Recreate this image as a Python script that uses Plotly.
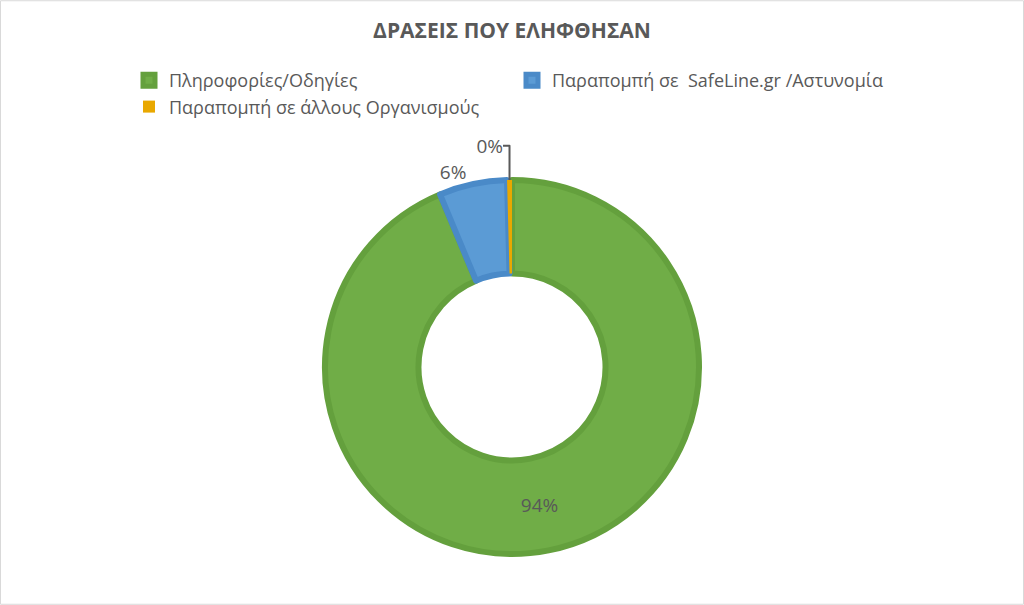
import plotly.graph_objects as go

# actions taken (counts)
labels = ["Πληροφορίες/Οδηγίες", "Παραπομπή σε  SafeLine.gr /Αστυνομία", "Παραπομπή σε άλλους Οργανισμούς"]
values = [1550, 97, 7]
colors = ["#70AD47", "#5B9BD5", "#E9A800"]
edge_colors = ["#64A03D", "#4A8AC8", "#E9A800"]

W, H = 1024, 605
top, bottom = 180, 51
plot_h = H - top - bottom

fig = go.Figure()
fig.add_trace(go.Pie(
    labels=labels,
    values=values,
    hole=0.5,
    sort=False,
    direction="clockwise",
    rotation=0,
    marker=dict(colors=colors, line=dict(color=edge_colors, width=[6, 6, 0])),
    texttemplate="%{percent:.0%}",
    textposition=["inside", "outside", "outside"],
    insidetextorientation="horizontal",
    textfont=dict(size=19, color="#595959", family="Open Sans"),
    domain=dict(x=[0, 1], y=[0, 1]),
))

fig.update_layout(
    width=W, height=H,
    margin=dict(l=0, r=0, t=top, b=bottom, autoexpand=False),
    paper_bgcolor="white",
    plot_bgcolor="white",
    font=dict(family="Open Sans", color="#595959"),
    title=dict(
        text="<b>ΔΡΑΣΕΙΣ ΠΟΥ ΕΛΗΦΘΗΣΑΝ</b>",
        x=0.5, xanchor="center",
        y=1 - 31 / H, yanchor="middle",
        font=dict(size=21, color="#595959", family="Open Sans"),
    ),
    legend=dict(
        orientation="h",
        x=129 / W, xanchor="left",
        y=(H - bottom - 62) / plot_h, yanchor="top",
        entrywidth=338, entrywidthmode="pixels",
        font=dict(size=18, color="#595959", family="Open Sans"),
        traceorder="normal",
    ),
    shapes=[dict(
        type="rect", xref="paper", yref="paper",
        x0=0.0005, x1=0.9995,
        y0=-bottom / plot_h + 0.002, y1=1 + top / plot_h - 0.002,
        line=dict(color="#D9D9D9", width=1),
        fillcolor="rgba(0,0,0,0)",
    )],
)

# drop the default page margin so the figure sits at the window's corner
fig.write_html("out.html", config={"displayModeBar": False},
               post_script="document.body.style.margin='0';")
